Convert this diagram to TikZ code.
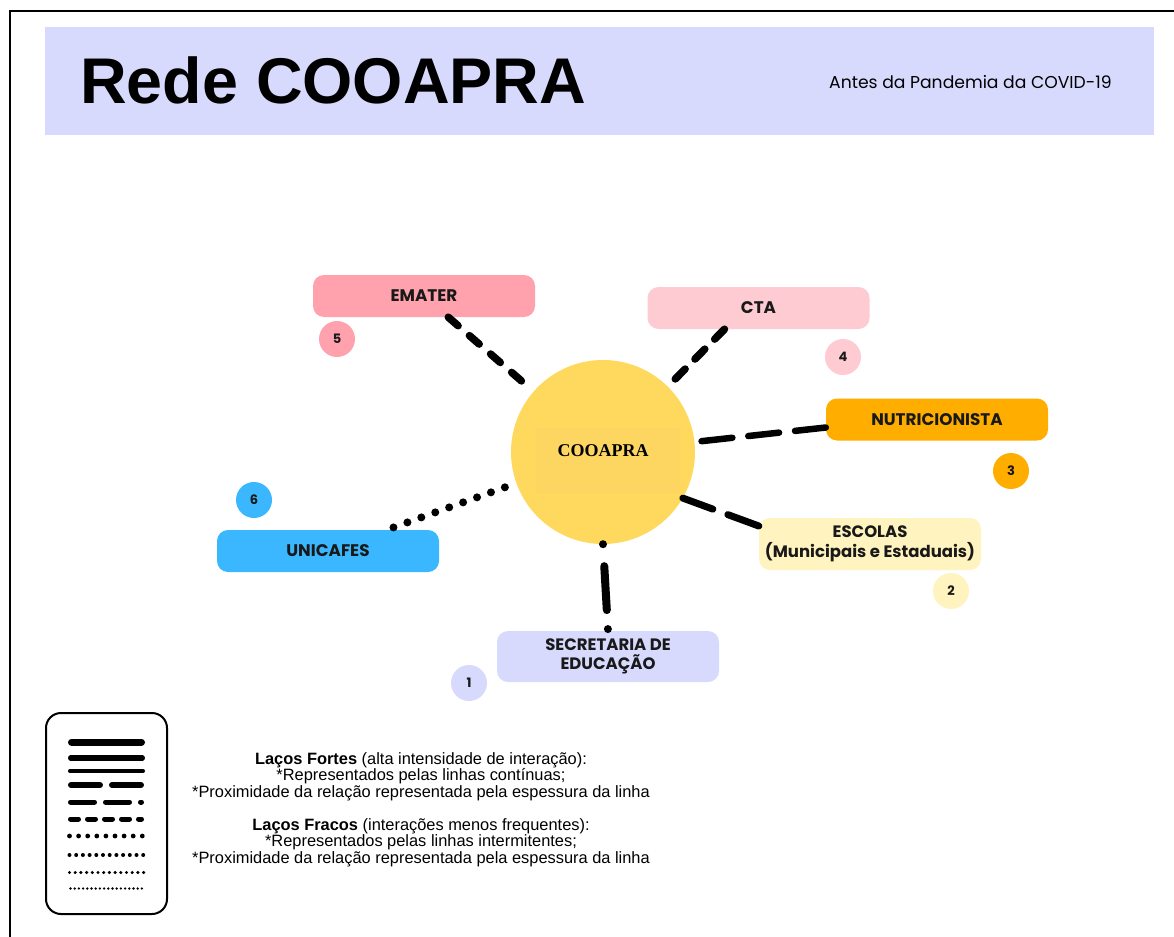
\documentclass[tikz,border=0pt]{standalone}
\usepackage{fontspec}
\setmainfont{Poppins}
\newfontfamily\arialf{Liberation Sans}
\newfontfamily\timesf{Liberation Serif}
\definecolor{hdr}{HTML}{D8DAFD}
\definecolor{emater}{HTML}{FFA2AD}
\definecolor{cta}{HTML}{FFCBD2}
\definecolor{nutri}{HTML}{FFAE00}
\definecolor{escolas}{HTML}{FFF3BF}
\definecolor{secr}{HTML}{D8DAFD}
\definecolor{unic}{HTML}{3BB7FF}
\definecolor{cooyel}{HTML}{FED95D}
\definecolor{cooin}{HTML}{FCD660}
\tikzset{
  box/.style={rounded corners=11pt, minimum width=222pt, minimum height=42pt, inner sep=0pt,
    font=\fontsize{16.8}{19}\selectfont\bfseries, align=center, text=black!90},
  twoline/.style={font=\fontsize{16.5}{19.5}\selectfont\bfseries},
  badge/.style={circle, minimum size=36pt, inner sep=0pt, font=\fontsize{13}{15}\selectfont\bfseries, text=black!90},
  tie/.style={line width=7.5pt, line cap=round, black},
  legline/.style={line cap=round, black},
  legtext/.style={font=\arialf\fontsize{16.4}{16.6}\selectfont, align=center, inner sep=0pt},
}
\begin{document}
\begin{tikzpicture}[x=1pt,y=-1pt]
\useasboundingbox (0,0) rectangle (1174,936);
\begin{scope}
\clip (0,0) rectangle (1174,936);
\draw[line width=2pt] (10,11) rectangle (1200,960);
\end{scope}
% header
\fill[hdr] (45,27) rectangle (1154,135);
\node[anchor=base west, inner sep=0pt, font=\arialf\bfseries\fontsize{64.6}{70}\selectfont] (title) at (80,104) {Rede COOAPRA};
\node[anchor=base west, inner sep=0pt, font=\fontsize{17.2}{19}\selectfont] (subtitle) at (829,89) {Antes da Pandemia da COVID-19};

% central node
\node[circle, fill=cooyel, minimum size=184pt, inner sep=0pt] (coo) at (603,452) {};
\fill[cooin] (536,428) rectangle (680,493);
\node[font=\timesf\bfseries\fontsize{18}{20}\selectfont, inner sep=0pt] (cootxt) at (603,451) {COOAPRA};

% boxes
\node[box, fill=emater] (emater) at (424,296) {EMATER};
\node[box, fill=cta] (cta) at (758.5,308) {CTA};
\node[box, fill=nutri] (nutri) at (937,419.5) {NUTRICIONISTA};
\node[box, twoline, fill=escolas, minimum height=52pt] (escolas) at (870,544) {ESCOLAS\\(Municipais e Estaduais)};
\node[box, twoline, fill=secr, minimum height=51pt] (secr) at (608,656.5) {SECRETARIA DE\\EDUCAÇÃO};
\node[box, fill=unic] (unic) at (328,551) {UNICAFES};

% badges
\node[badge, fill=emater] (b5) at (337,339) {5};
\node[badge, fill=cta] (b4) at (843,357) {4};
\node[badge, fill=nutri] (b3) at (1011,471) {3};
\node[badge, fill=escolas] (b2) at (951,591) {2};
\node[badge, fill=secr] (b1) at (469,683) {1};
\node[badge, fill=unic] (b6) at (254,500) {6};

% connectors
\draw[tie, dash pattern=on 13pt off 15pt, shorten >=3pt] (emater) -- (coo);
\draw[tie, dash pattern=on 14pt off 14pt, shorten >=3pt] ([xshift=-34pt]cta.south) -- (coo);
\draw[tie, line width=6.5pt, dash pattern=on 31pt off 16pt] ([yshift=-8pt]nutri.west) -- (coo);
\draw[tie, line width=7pt, dash pattern=on 33pt off 16pt] ([yshift=18pt]escolas.west) -- (coo.-30);
\draw[tie, line width=8pt, dash pattern=on 0pt off 22pt on 44pt off 19pt on 0pt off 100pt] (coo.south) -- (secr.north);
\draw[tie, line width=8pt, dash pattern=on 0pt off 14.8pt, shorten <=7pt, shorten >=2pt] (unic) -- (coo);

% legend box
\draw[line width=2pt, rounded corners=15pt] (46,713) rectangle (167,914);
\draw[legline, line width=7pt] (71.5,742) -- (141.5,742);
\draw[legline, line width=5.5pt] (70.75,758) -- (142.25,758);
\draw[legline, line width=3.5pt] (69.75,771) -- (143.25,771);
\draw[legline, line width=6pt, dash pattern=on 29pt off 12pt] (71,785) -- (142,785);
\draw[legline, line width=5pt, dash pattern=on 24pt off 11pt] (70.5,802) -- (141.5,802);
\draw[legline, line width=5pt, dash pattern=on 8pt off 9pt] (70.5,819) -- (141.5,819);
\draw[legline, line width=4.8pt, dash pattern=on 0pt off 9.1pt] (69.5,836) -- (142.5,836);
\draw[legline, line width=4pt, dash pattern=on 0pt off 6.7pt] (69.5,855) -- (143.2,855);
\draw[legline, line width=3.4pt, dash pattern=on 0pt off 5.7pt] (69.5,872.5) -- (143.6,872.5);
\draw[legline, line width=2.6pt, dash pattern=on 0pt off 4.2pt] (70.5,888.5) -- (142,888.5);

% legend text
\node[legtext] (legstrong) at (421,776.5) {{\bfseries Laços Fortes} (alta intensidade de interação):\\*Representados pelas linhas contínuas;\\*Proximidade da relação representada pela espessura da linha};
\node[legtext] (legweak) at (421,842.5) {{\bfseries Laços Fracos} (interações menos frequentes):\\*Representados pelas linhas intermitentes;\\*Proximidade da relação representada pela espessura da linha};
\end{tikzpicture}
\end{document}
